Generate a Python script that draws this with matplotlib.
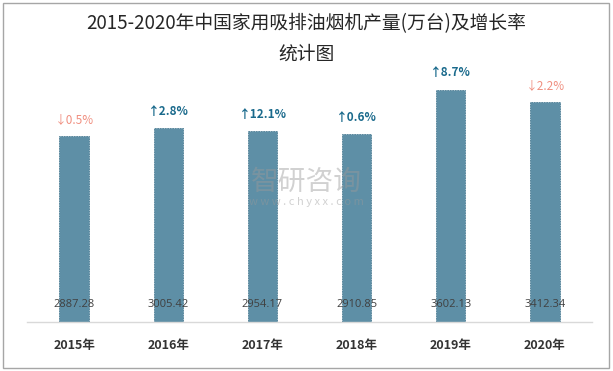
import matplotlib
matplotlib.use("Agg")
import matplotlib.pyplot as plt
from matplotlib.patches import Rectangle

years = ["2015年", "2016年", "2017年", "2018年", "2019年", "2020年"]
values = [2887.28, 3005.42, 2954.17, 2910.85, 3602.13, 3412.34]
growth = [-0.5, 2.8, 12.1, 0.6, 8.7, -2.2]

plt.rcParams['font.family'] = ['Noto Sans CJK SC', 'DejaVu Sans']

fig = plt.figure(figsize=(6.13, 3.71), dpi=100)
ax = fig.add_axes([27/613, 49/371, 565/613, 258/371])

x = list(range(len(years)))
bars = ax.bar(x, values, width=0.31, color="#5E8FA6", edgecolor="#4F7F96",
              linewidth=0.6, linestyle=(0, (2, 1)), zorder=2)
ax.set_xlim(-0.5, len(years) - 0.5)
ax.set_ylim(0, 4000)

for s in ["top", "right", "left"]:
    ax.spines[s].set_visible(False)
ax.spines["bottom"].set_color("#D9D9D9")
ax.spines["bottom"].set_linewidth(1.0)
ax.set_yticks([])
ax.set_xticks(x)
ax.set_xticklabels(years, fontsize=9, fontweight="bold", color="#333333")
ax.tick_params(axis="x", length=0, pad=12)

for xi, v, g in zip(x, values, growth):
    ax.text(xi, 180, f"{v:.2f}", ha="center", va="bottom", fontsize=8,
            color="#404040", family=['Open Sans', 'DejaVu Sans'], zorder=3)
    if g >= 0:
        arrow, num, col, fw = "↑", f"{g}%", "#1A6A8C", "bold"
    else:
        arrow, num, col, fw = "↓", f"{abs(g)}%", "#F08F80", "normal"
    ax.annotate(arrow + num, (xi, v), xytext=(0, 12), textcoords="offset points",
                ha="center", va="center", fontsize=8.5, color=col,
                fontweight=fw, family=['Noto Sans CJK SC', 'DejaVu Sans'])

fig.text(0.5, 0.935, "2015-2020年中国家用吸排油烟机产量(万台)及增长率", ha="center",
         va="center", fontsize=13.5, color="#262626")
fig.text(0.5, 0.855, "统计图", ha="center", va="center", fontsize=13.5, color="#262626")

# watermark
fig.text(0.5, 0.51, "智研咨询", ha="center", va="center", fontsize=20,
         color="#9A9A9A", alpha=0.45, zorder=5)
fig.text(0.5, 0.455, "w w w . c h y x x . c o m", ha="center", va="center", fontsize=8,
         color="#9A9A9A", alpha=0.45, zorder=5)

fig.patches.append(Rectangle((3/613, 3/371), 606/613, 365/371, transform=fig.transFigure,
                             fill=False, edgecolor="#A6A6A6", linewidth=1.0))

fig.savefig("out.png", dpi=100)
